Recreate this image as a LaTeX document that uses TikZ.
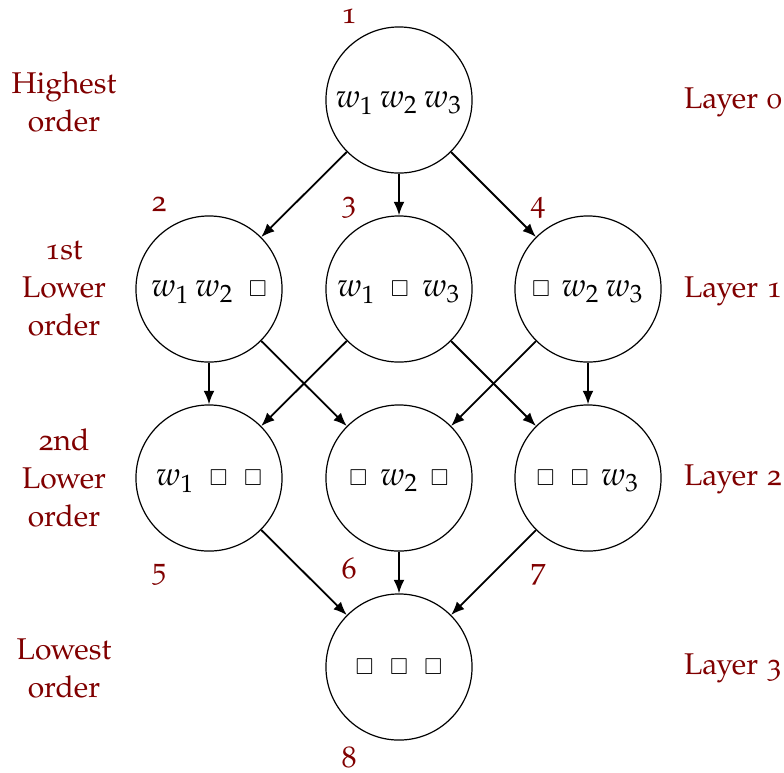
\documentclass[tikz,border=0pt]{standalone}
\usepackage[T1]{fontenc}
\usepackage[osf]{mathpazo}
\usepackage{amssymb}
\usetikzlibrary{arrows.meta}
\definecolor{lblred}{RGB}{128,0,0}
\newcommand{\bx}{\raisebox{0.1pt}{\scalebox{0.67}{$\square$}}}
\tikzset{
  px/.style={x=0.33333pt,y=-0.33333pt},
  state/.style={circle,draw,line width=0.4pt,minimum size=48.7pt,inner sep=0pt,text depth=0pt,font=\fontsize{11}{13}\selectfont},
  numlbl/.style={text=lblred,anchor=base,inner sep=0pt},
  sidelbl/.style={text=lblred,align=center,inner sep=0pt,font=\fontsize{10}{12.7}\selectfont},
  layerlbl/.style={text=lblred,anchor=base,inner sep=0pt},
  conn/.style={-{Latex[length=4.5pt,width=3.6pt]},line width=0.6pt}
}
\begin{document}
\begin{tikzpicture}[px]
\useasboundingbox (0,0) rectangle (784,772);
% states
\node[state] (s1) at (399,100) {$w_1\,w_2\,w_3$};
\node[state] (s2) at (209,289) {$w_1\,w_2$\hspace{5pt}\bx};
\node[state] (s3) at (399,289) {$w_1$\hspace{5pt}\bx\hspace{4.5pt}$w_3$};
\node[state] (s4) at (588,289) {\bx\hspace{3.8pt}$w_2\,w_3$};
\node[state] (s5) at (209,478) {$w_1$\hspace{5pt}\bx\hspace{5.5pt}\bx};
\node[state] (s6) at (399,478) {\bx\hspace{4.3pt}$w_2$\hspace{4pt}\bx};
\node[state] (s7) at (588,478) {\bx\hspace{5.5pt}\bx\hspace{4pt}$w_3$};
\node[state] (s8) at (399,667) {\bx\hspace{5.5pt}\bx\hspace{5.5pt}\bx};
% numbers
\node[numlbl] (l1) at (349,23) {1};
\node[numlbl] (l2) at (159,211) {2};
\node[numlbl] (l3) at (349,211) {3};
\node[numlbl] (l4) at (538,211) {4};
\node[numlbl] (l5) at (159,578) {5};
\node[numlbl] (l6) at (349,578) {6};
\node[numlbl] (l7) at (538,578) {7};
\node[numlbl] (l8) at (349,767) {8};
% side labels
\node[sidelbl] (o0) at (64,102) {Highest\\order};
\node[sidelbl] (o1) at (64,289) {1st\\Lower\\order};
\node[sidelbl] (o2) at (64,478) {2nd\\Lower\\order};
\node[sidelbl] (o3) at (64,668) {Lowest\\order};
\node[layerlbl] (y0) at (733,108) {Layer 0};
\node[layerlbl] (y1) at (733,297) {Layer 1};
\node[layerlbl] (y2) at (733,485) {Layer 2};
\node[layerlbl] (y3) at (733,674) {Layer 3};
% connectors
\draw[conn] (s1) -- (s2);
\draw[conn] (s1) -- (s3);
\draw[conn] (s1) -- (s4);
\draw[conn] (s2) -- (s5);
\draw[conn] (s2) -- (s6);
\draw[conn] (s3) -- (s5);
\draw[conn] (s3) -- (s7);
\draw[conn] (s4) -- (s6);
\draw[conn] (s4) -- (s7);
\draw[conn] (s5) -- (s8);
\draw[conn] (s6) -- (s8);
\draw[conn] (s7) -- (s8);
\end{tikzpicture}
\end{document}
